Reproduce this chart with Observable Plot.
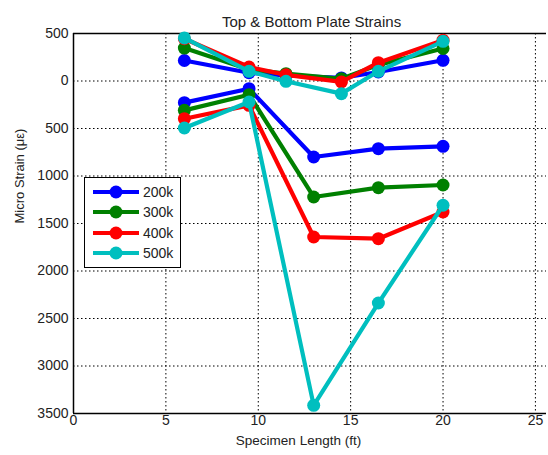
<!DOCTYPE html>
<html><head><meta charset="utf-8">
<script src="https://cdn.jsdelivr.net/npm/d3@7"></script>
<script src="https://cdn.jsdelivr.net/npm/@observablehq/plot@0.6"></script>
<style>
body{margin:0;background:#fff;font-family:"Liberation Sans",Arial,sans-serif}
#wrap{position:relative;width:548px;height:455px}
#legend{position:absolute;left:84px;top:177px;width:97px;height:91px;border:1px solid #000;background:#fff;box-sizing:border-box}
.item{position:absolute;left:0;height:20px;display:flex;align-items:center}
.item svg{display:block}
.item span{font-size:14px;color:#222;margin-left:2px;line-height:20px}
</style>
</head><body><div id="wrap"></div>
<script>
const loads = ["200k", "300k", "400k", "500k"];
const colors = ["#0000ff", "#008000", "#ff0000", "#00bfbf"];
const xTop = [6, 9.5, 11.5, 14.5, 16.5, 20];
const xBottom = [6, 9.5, 13, 16.5, 20];
const top200 = [216, 87, 58, 32, 95, 218];
const top300 = [347, 122, 77, 24, 170, 342];
const top400 = [445, 147, 65, -10, 193, 430];
const top500 = [453, 102, -3, -133, 102, 418];
const bottom200 = [-228, -81, -800, -712, -688];
const bottom300 = [-309, -144, -1221, -1123, -1095];
const bottom400 = [-397, -256, -1642, -1660, -1379];
const bottom500 = [-495, -221, -3414, -2337, -1308];
const xTicks = [0, 5, 10, 15, 20, 25];
const yTicks = [500, 0, -500, -1000, -1500, -2000, -2500, -3000, -3500];
const title = "Top & Bottom Plate Strains";
const xLabel = "Specimen Length (ft)";
const yLabel = "Micro Strain (\u03bc\u03b5)";

const topSeries = [top200, top300, top400, top500];
const bottomSeries = [bottom200, bottom300, bottom400, bottom500];

const seriesMarks = [];
loads.forEach((load, i) => {
  const rows = [];
  topSeries[i].forEach((v, j) => rows.push({x: xTop[j], y: v, load, key: load + "-top"}));
  bottomSeries[i].forEach((v, j) => rows.push({x: xBottom[j], y: v, load, key: load + "-bottom"}));
  seriesMarks.push(Plot.line(rows, {x: "x", y: "y", z: "key", stroke: "load", strokeWidth: 4.2, strokeLinejoin: "round"}));
  seriesMarks.push(Plot.dot(rows, {x: "x", y: "y", fill: "load", r: 6.5}));
});

const dash = "1.5,2.5";
const chart = Plot.plot({
  width: 548, height: 455,
  marginLeft: 73, marginRight: 2, marginTop: 33, marginBottom: 42,
  style: {fontFamily: "'Liberation Sans', Arial, sans-serif", fontSize: "14px", color: "#222", background: "#fff"},
  x: {domain: [0, 25.6]},
  y: {domain: [-3500, 500]},
  color: {domain: loads, range: colors},
  marks: [
    Plot.gridX(xTicks, {stroke: "#000", strokeOpacity: 1, strokeWidth: 1, strokeDasharray: dash}),
    Plot.gridY(yTicks, {stroke: "#000", strokeOpacity: 1, strokeWidth: 1, strokeDasharray: dash}),
    Plot.ruleX([0], {stroke: "#000", strokeWidth: 1.5}),
    Plot.ruleY([500, -3500], {stroke: "#000", strokeWidth: 1.5}),
    Plot.axisX(xTicks, {tickSize: 0, tickPadding: 2, label: null, fontSize: 14, tickFormat: d => String(d)}),
    Plot.axisY(yTicks, {tickSize: 0, tickPadding: 5, label: null, tickFormat: d => String(Math.abs(d)), fontSize: 14}),
    ...seriesMarks,
    Plot.text([title], {text: d => d, frameAnchor: "top", dy: -17, dx: 1.5, fontSize: 15, fill: "#222"}),
    Plot.text([xLabel], {text: d => d, frameAnchor: "bottom", dy: 31, dx: -11.5, fontSize: 13.5, fill: "#222"}),
    Plot.text([yLabel], {text: d => d, frameAnchor: "left", dx: -54, rotate: -90, fontSize: 13, fill: "#222"})
  ]
});
const wrap = document.getElementById("wrap");
wrap.appendChild(chart);

const legend = document.createElement("div");
legend.id = "legend";
loads.forEach((load, i) => {
  const item = document.createElement("div");
  item.className = "item";
  item.style.top = (4 + i * 20.3) + "px";
  item.innerHTML = `<svg width="50" height="20" style="margin-left:6px"><line x1="2" y1="10" x2="48" y2="10" stroke="${colors[i]}" stroke-width="4.2"/><circle cx="25" cy="10" r="6.5" fill="${colors[i]}"/></svg><span>${load}</span>`;
  legend.appendChild(item);
});
wrap.appendChild(legend);
</script>
</body></html>
